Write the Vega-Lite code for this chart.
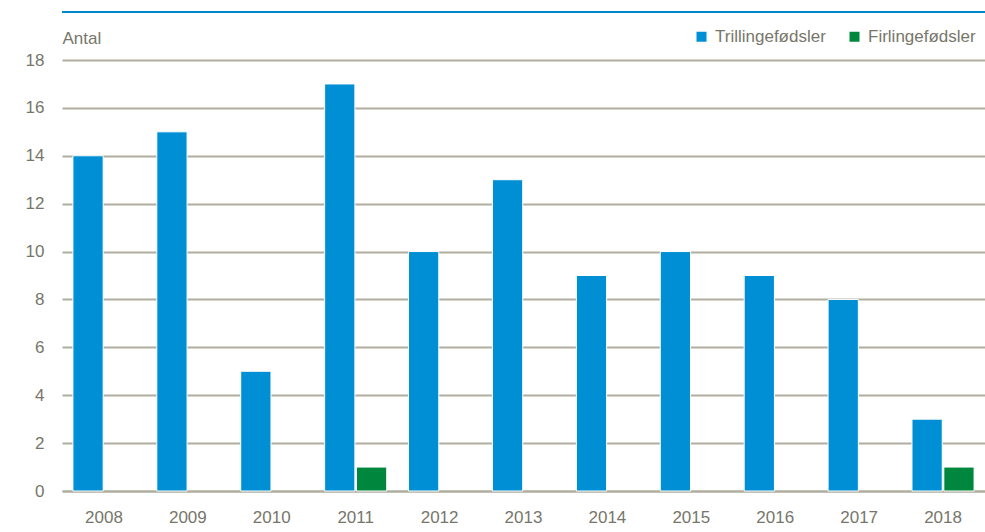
{
  "$schema": "https://vega.github.io/schema/vega-lite/v6.json",
  "autosize": {"type": "none"},
  "width": 923,
  "height": 431,
  "padding": {"left": 62, "top": 60, "right": 0, "bottom": 41},
  "background": "white",
  "config": {
    "view": {"stroke": null},
    "font": "Liberation Sans",
    "axis": {"labelFont": "Liberation Sans", "titleFont": "Liberation Sans"},
    "legend": {"labelFont": "Liberation Sans"}
  },
  "data": {
    "values": [
      {"year": "2008", "series": "Trillingefødsler", "value": 14},
      {"year": "2009", "series": "Trillingefødsler", "value": 15},
      {"year": "2010", "series": "Trillingefødsler", "value": 5},
      {"year": "2011", "series": "Trillingefødsler", "value": 17},
      {"year": "2011", "series": "Firlingefødsler", "value": 1},
      {"year": "2012", "series": "Trillingefødsler", "value": 10},
      {"year": "2013", "series": "Trillingefødsler", "value": 13},
      {"year": "2014", "series": "Trillingefødsler", "value": 9},
      {"year": "2015", "series": "Trillingefødsler", "value": 10},
      {"year": "2016", "series": "Trillingefødsler", "value": 9},
      {"year": "2017", "series": "Trillingefødsler", "value": 8},
      {"year": "2018", "series": "Trillingefødsler", "value": 3},
      {"year": "2018", "series": "Firlingefødsler", "value": 1}
    ]
  },
  "layer": [
    {
      "mark": {"type": "bar", "stroke": "white", "strokeWidth": 1},
      "encoding": {
        "x": {
          "field": "year", "type": "nominal",
          "scale": {"paddingInner": 0.26, "paddingOuter": 0.13},
          "axis": {
            "title": null, "labelAngle": 0, "ticks": false,
            "domainColor": "#B0ADA0", "domainWidth": 2,
            "labelColor": "#77766A", "labelFontSize": 17, "labelPadding": 18
          }
        },
        "xOffset": {"field": "series", "type": "nominal", "sort": ["Trillingefødsler", "Firlingefødsler"], "scale": {"paddingInner": 0.05}},
        "y": {
          "field": "value", "type": "quantitative",
          "scale": {"domain": [0, 18], "nice": false},
          "axis": {
            "values": [0, 2, 4, 6, 8, 10, 12, 14, 16, 18],
            "domain": false, "ticks": false,
            "gridColor": "#B0ADA0", "gridWidth": 2,
            "labelColor": "#77766A", "labelFontSize": 17, "labelPadding": 18,
            "title": "Antal", "titleAngle": 0, "titleX": 0, "titleY": -22,
            "titleAlign": "left", "titleBaseline": "middle",
            "titleFontWeight": "normal", "titleFontSize": 17, "titleColor": "#77766A"
          }
        },
        "color": {
          "field": "series", "type": "nominal",
          "sort": ["Trillingefødsler", "Firlingefødsler"],
          "scale": {"domain": ["Trillingefødsler", "Firlingefødsler"], "range": ["#008FD5", "#00873E"]},
          "legend": {
            "title": null, "orient": "none", "direction": "horizontal",
            "legendX": 631, "legendY": -32,
            "symbolType": "square", "symbolSize": 100, "symbolStrokeWidth": 0,
            "labelFontSize": 17, "labelColor": "#77766A", "columnPadding": 20, "labelOffset": 5
          }
        }
      }
    },
    {
      "mark": {"type": "rule", "color": "#0088CC", "strokeWidth": 2, "clip": false},
      "encoding": {"y": {"datum": 20}}
    }
  ]
}
